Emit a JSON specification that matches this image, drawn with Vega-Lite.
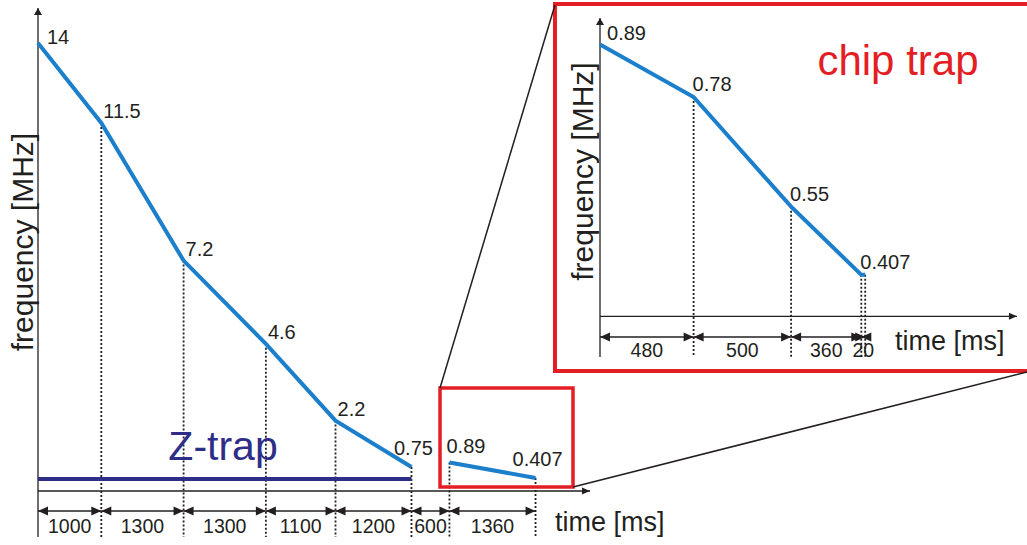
{
  "$schema": "https://vega.github.io/schema/vega-lite/v6.json",
  "width": 1027,
  "height": 545,
  "autosize": "none",
  "padding": 0,
  "background": "white",
  "config": {
    "view": {"stroke": null},
    "axis": {"disable": true},
    "text": {"font": "Liberation Sans", "color": "#231f20"}
  },
  "datasets": {
    "mainPoints": [
      {"trap": "Z-trap", "t": 0, "f": 14},
      {"trap": "Z-trap", "t": 1000, "f": 11.5},
      {"trap": "Z-trap", "t": 2300, "f": 7.2},
      {"trap": "Z-trap", "t": 3600, "f": 4.6},
      {"trap": "Z-trap", "t": 4700, "f": 2.2},
      {"trap": "Z-trap", "t": 5900, "f": 0.75},
      {"trap": "chip trap", "t": 6500, "f": 0.89},
      {"trap": "chip trap", "t": 7860, "f": 0.407}
    ],
    "mainSteps": [
      {"start": 0, "end": 1000, "dur": 1000},
      {"start": 1000, "end": 2300, "dur": 1300},
      {"start": 2300, "end": 3600, "dur": 1300},
      {"start": 3600, "end": 4700, "dur": 1100},
      {"start": 4700, "end": 5900, "dur": 1200},
      {"start": 5900, "end": 6500, "dur": 600},
      {"start": 6500, "end": 7860, "dur": 1360}
    ],
    "chipPoints": [
      {"t": 0, "f": 0.89},
      {"t": 480, "f": 0.78},
      {"t": 980, "f": 0.55},
      {"t": 1340, "f": 0.407},
      {"t": 1360, "f": 0.407}
    ],
    "chipSteps": [
      {"start": 0, "end": 480, "dur": 480},
      {"start": 480, "end": 980, "dur": 500},
      {"start": 980, "end": 1340, "dur": 360},
      {"start": 1340, "end": 1360, "dur": 20}
    ],
    "one": [{}]
  },
  "layer": [
    {
      "layer": [
        {
          "data": {"name": "mainPoints"},
          "transform": [{"filter": "datum.t > 0"}],
          "mark": {"type": "rule", "strokeDash": [2, 2], "strokeWidth": 1.8, "color": "#231f20"},
          "encoding": {
            "x": {"field": "t", "type": "quantitative", "scale": {"domain": [-600.3, 15624], "nice": false, "zero": false}, "axis": null},
            "y": {"field": "f", "type": "quantitative", "scale": {"domain": [-1.6875, 15.34375], "nice": false, "zero": false}, "axis": null},
            "y2": {"datum": -1.4375}
          }
        },
        {
          "data": {"name": "one"},
          "mark": {"type": "rule", "strokeWidth": 1.3, "color": "#231f20"},
          "encoding": {"x": {"datum": 0}, "y": {"datum": -1.4375}, "y2": {"datum": 15.09}}
        },
        {
          "data": {"name": "one"},
          "mark": {"type": "rule", "strokeWidth": 1.3, "color": "#231f20"},
          "encoding": {"x": {"datum": 0}, "x2": {"datum": 8720}, "y": {"datum": 0}}
        },
        {
          "data": {"name": "one"},
          "mark": {"type": "point", "shape": "M0,0L-0.8,1.4L0.8,1.4Z", "size": 100, "filled": true, "opacity": 1, "strokeWidth": 0, "color": "#231f20"},
          "encoding": {"x": {"datum": 0}, "y": {"datum": 15.09}}
        },
        {
          "data": {"name": "one"},
          "mark": {"type": "point", "shape": "M0,0L-1.6,-0.7L-1.6,0.7Z", "size": 100, "filled": true, "opacity": 1, "strokeWidth": 0, "color": "#231f20"},
          "encoding": {"x": {"datum": 8720}, "y": {"datum": 0}}
        },
        {
          "data": {"name": "one"},
          "mark": {"type": "rule", "strokeWidth": 4, "color": "#2e2d88"},
          "encoding": {"x": {"datum": 0}, "x2": {"datum": 5900}, "y": {"datum": 0.375}}
        },
        {
          "data": {"name": "mainPoints"},
          "mark": {"type": "line", "strokeWidth": 4, "color": "#1b7fcc", "strokeCap": "butt"},
          "encoding": {
            "x": {"field": "t", "type": "quantitative"},
            "y": {"field": "f", "type": "quantitative"},
            "detail": {"field": "trap"},
            "order": {"field": "t"}
          }
        },
        {
          "data": {"name": "mainSteps"},
          "mark": {"type": "rule", "strokeWidth": 1.4, "color": "#231f20"},
          "encoding": {"x": {"field": "start", "type": "quantitative"}, "x2": {"field": "end"}, "y": {"datum": -0.625}}
        },
        {
          "data": {"name": "mainSteps"},
          "mark": {"type": "point", "shape": "M0,0L2,-0.9L2,0.9Z", "size": 100, "filled": true, "opacity": 1, "strokeWidth": 0, "color": "#231f20"},
          "encoding": {"x": {"field": "start", "type": "quantitative"}, "y": {"datum": -0.625}}
        },
        {
          "data": {"name": "mainSteps"},
          "mark": {"type": "point", "shape": "M0,0L-2,-0.9L-2,0.9Z", "size": 100, "filled": true, "opacity": 1, "strokeWidth": 0, "color": "#231f20"},
          "encoding": {"x": {"field": "end", "type": "quantitative"}, "y": {"datum": -0.625}}
        },
        {
          "data": {"name": "mainSteps"},
          "transform": [{"calculate": "(datum.start + datum.end) / 2", "as": "mid"}],
          "mark": {"type": "text", "fontSize": 19.5, "align": "center", "baseline": "alphabetic"},
          "encoding": {"x": {"field": "mid", "type": "quantitative"}, "y": {"datum": -1.3125}, "text": {"field": "dur", "type": "nominal"}}
        },
        {
          "data": {"name": "mainPoints"},
          "transform": [{"filter": "datum.trap == 'Z-trap' && datum.t > 0 && datum.t < 5900"}],
          "mark": {"type": "text", "fontSize": 20, "align": "left", "baseline": "alphabetic", "dx": 2, "dy": -5},
          "encoding": {"x": {"field": "t", "type": "quantitative"}, "y": {"field": "f", "type": "quantitative"}, "text": {"field": "f", "type": "nominal"}}
        },
        {
          "data": {"name": "mainPoints"},
          "transform": [{"filter": "datum.t == 0"}],
          "mark": {"type": "text", "fontSize": 20, "align": "left", "baseline": "alphabetic", "dx": 9, "dy": 1},
          "encoding": {"x": {"field": "t", "type": "quantitative"}, "y": {"field": "f", "type": "quantitative"}, "text": {"field": "f", "type": "nominal"}}
        },
        {
          "data": {"name": "mainPoints"},
          "transform": [{"filter": "datum.t == 5900 || datum.t == 7860"}],
          "mark": {"type": "text", "fontSize": 20, "align": "center", "baseline": "alphabetic", "dx": 2, "dy": -12},
          "encoding": {"x": {"field": "t", "type": "quantitative"}, "y": {"field": "f", "type": "quantitative"}, "text": {"field": "f", "type": "nominal"}}
        },
        {
          "data": {"name": "mainPoints"},
          "transform": [{"filter": "datum.t == 6500"}],
          "mark": {"type": "text", "fontSize": 20, "align": "left", "baseline": "alphabetic", "dx": -3, "dy": -10},
          "encoding": {"x": {"field": "t", "type": "quantitative"}, "y": {"field": "f", "type": "quantitative"}, "text": {"field": "f", "type": "nominal"}}
        },
        {
          "data": {"name": "one"},
          "mark": {"type": "text", "text": "Z-trap", "fontSize": 41, "align": "center", "baseline": "alphabetic", "color": "#2e2d88"},
          "encoding": {"x": {"datum": 2923}, "y": {"datum": 0.969}}
        },
        {
          "data": {"name": "one"},
          "mark": {"type": "text", "text": "time [ms]", "fontSize": 27, "align": "left", "baseline": "alphabetic"},
          "encoding": {"x": {"datum": 8167}, "y": {"datum": -1.25}}
        },
        {
          "data": {"name": "one"},
          "mark": {"type": "text", "text": "frequency [MHz]", "fontSize": 30, "align": "center", "baseline": "alphabetic", "angle": 270},
          "encoding": {"x": {"datum": -79}, "y": {"datum": 7.78}}
        },
        {
          "data": {"name": "one"},
          "mark": {"type": "rect", "filled": false, "stroke": "#e31e24", "strokeWidth": 3.5},
          "encoding": {"x": {"datum": 6351}, "x2": {"datum": 8452}, "y": {"datum": 3.219}, "y2": {"datum": 0.125}}
        },
        {
          "data": {"name": "one"},
          "mark": {"type": "rect", "filled": false, "stroke": "#e31e24", "strokeWidth": 4},
          "encoding": {"x": {"datum": 8167}, "x2": {"datum": 16100}, "y": {"datum": 15.22}, "y2": {"datum": 3.75}}
        },
        {
          "data": {"name": "one"},
          "mark": {"type": "rule", "strokeWidth": 1.5, "color": "#231f20"},
          "encoding": {"x": {"datum": 6351}, "y": {"datum": 3.219}, "x2": {"datum": 8167}, "y2": {"datum": 15.19}}
        },
        {
          "data": {"name": "one"},
          "mark": {"type": "rule", "strokeWidth": 1.5, "color": "#231f20"},
          "encoding": {"x": {"datum": 8452}, "y": {"datum": 0.125}, "x2": {"datum": 15624}, "y2": {"datum": 3.719}}
        }
      ]
    },
    {
      "layer": [
        {
          "data": {"name": "chipPoints"},
          "transform": [{"filter": "datum.t > 0"}],
          "mark": {"type": "rule", "strokeDash": [2, 2], "strokeWidth": 1.8, "color": "#231f20"},
          "encoding": {
            "x": {"field": "t", "type": "quantitative", "scale": {"domain": [-3076.9, 2189.7], "nice": false, "zero": false}, "axis": null},
            "y": {"field": "f", "type": "quantitative", "scale": {"domain": [-0.1596, 0.9834], "nice": false, "zero": false}, "axis": null},
            "y2": {"datum": 0.2347}
          }
        },
        {
          "data": {"name": "one"},
          "mark": {"type": "rule", "strokeWidth": 1.3, "color": "#231f20"},
          "encoding": {"x": {"datum": 0}, "y": {"datum": 0.2347}, "y2": {"datum": 0.9457}}
        },
        {
          "data": {"name": "one"},
          "mark": {"type": "rule", "strokeWidth": 1.3, "color": "#231f20"},
          "encoding": {"x": {"datum": 0}, "x2": {"datum": 2138}, "y": {"datum": 0.32}}
        },
        {
          "data": {"name": "one"},
          "mark": {"type": "point", "shape": "M0,0L-0.8,1.4L0.8,1.4Z", "size": 100, "filled": true, "opacity": 1, "strokeWidth": 0, "color": "#231f20"},
          "encoding": {"x": {"datum": 0}, "y": {"datum": 0.9457}}
        },
        {
          "data": {"name": "one"},
          "mark": {"type": "point", "shape": "M0,0L-1.6,-0.7L-1.6,0.7Z", "size": 100, "filled": true, "opacity": 1, "strokeWidth": 0, "color": "#231f20"},
          "encoding": {"x": {"datum": 2138}, "y": {"datum": 0.32}}
        },
        {
          "data": {"name": "chipPoints"},
          "mark": {"type": "line", "strokeWidth": 4, "color": "#1b7fcc", "strokeCap": "butt"},
          "encoding": {"x": {"field": "t", "type": "quantitative"}, "y": {"field": "f", "type": "quantitative"}, "order": {"field": "t"}}
        },
        {
          "data": {"name": "chipSteps"},
          "mark": {"type": "rule", "strokeWidth": 1.4, "color": "#231f20"},
          "encoding": {"x": {"field": "start", "type": "quantitative"}, "x2": {"field": "end"}, "y": {"datum": 0.2766}}
        },
        {
          "data": {"name": "chipSteps"},
          "mark": {"type": "point", "shape": "M0,0L2,-0.9L2,0.9Z", "size": 100, "filled": true, "opacity": 1, "strokeWidth": 0, "color": "#231f20"},
          "encoding": {"x": {"field": "start", "type": "quantitative"}, "y": {"datum": 0.2766}}
        },
        {
          "data": {"name": "chipSteps"},
          "mark": {"type": "point", "shape": "M0,0L-2,-0.9L-2,0.9Z", "size": 100, "filled": true, "opacity": 1, "strokeWidth": 0, "color": "#231f20"},
          "encoding": {"x": {"field": "end", "type": "quantitative"}, "y": {"datum": 0.2766}}
        },
        {
          "data": {"name": "chipSteps"},
          "transform": [{"calculate": "(datum.start + datum.end) / 2", "as": "mid"}],
          "mark": {"type": "text", "fontSize": 19.5, "align": "center", "baseline": "alphabetic"},
          "encoding": {"x": {"field": "mid", "type": "quantitative"}, "y": {"datum": 0.2347}, "text": {"field": "dur", "type": "nominal"}}
        },
        {
          "data": {"name": "chipPoints"},
          "transform": [{"filter": "datum.t == 0"}],
          "mark": {"type": "text", "fontSize": 20, "align": "left", "baseline": "alphabetic", "dx": 7, "dy": -5},
          "encoding": {"x": {"field": "t", "type": "quantitative"}, "y": {"field": "f", "type": "quantitative"}, "text": {"field": "f", "type": "nominal"}}
        },
        {
          "data": {"name": "chipPoints"},
          "transform": [{"filter": "datum.t > 0 && datum.t < 1360"}],
          "mark": {"type": "text", "fontSize": 20, "align": "left", "baseline": "alphabetic", "dx": -1, "dy": -6},
          "encoding": {"x": {"field": "t", "type": "quantitative"}, "y": {"field": "f", "type": "quantitative"}, "text": {"field": "f", "type": "nominal"}}
        },
        {
          "data": {"name": "one"},
          "mark": {"type": "text", "text": "chip trap", "fontSize": 42, "align": "center", "baseline": "alphabetic", "color": "#e31e24"},
          "encoding": {"x": {"datum": 1528}, "y": {"datum": 0.8261}}
        },
        {
          "data": {"name": "one"},
          "mark": {"type": "text", "text": "time [ms]", "fontSize": 27, "align": "left", "baseline": "alphabetic"},
          "encoding": {"x": {"datum": 1513}, "y": {"datum": 0.2494}}
        },
        {
          "data": {"name": "one"},
          "mark": {"type": "text", "text": "frequency [MHz]", "fontSize": 30, "align": "center", "baseline": "alphabetic", "angle": 270},
          "encoding": {"x": {"datum": -36}, "y": {"datum": 0.6237}}
        }
      ]
    }
  ],
  "resolve": {"scale": {"x": "independent", "y": "independent"}}
}
